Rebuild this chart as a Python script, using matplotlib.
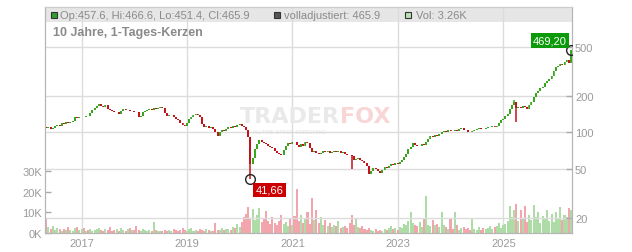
import matplotlib
matplotlib.use('Agg')
import matplotlib.pyplot as plt
from matplotlib.patches import Rectangle
import numpy as np
import pandas as pd

plt.rcParams['font.family'] = ['Liberation Sans', 'DejaVu Sans']

W, H = 632, 253

# semi-monthly candles (1st / 15th)
dates = pd.date_range('2016-04-15', '2026-04-15', freq='SMS')
closes = [
    110, 108, 111, 106, 109, 113, 115, 114, 119, 117, 121, 119, 122, 124, 133, 131, 133, 135, 134, 137, 136, 144, 152, 158,
    164, 171, 165, 163, 168, 155, 153, 150, 146, 148, 142, 150, 157, 152, 153, 149, 151, 148, 146, 133, 137, 146, 150, 152,
    155, 153, 158, 156, 160, 162, 158, 145, 137, 139, 140, 134, 130, 126, 120, 116, 114, 120, 129, 133, 140, 142, 138, 133,
    118, 110, 112, 108, 110, 106, 100, 94, 100, 104, 103, 106, 110, 108, 112, 111, 115, 117, 113, 110, 105, 92, 55, 62,
    73, 80, 86, 83, 82, 80, 78, 76, 75, 71, 68, 67, 65, 72, 78, 82, 80, 84, 83, 79, 76, 80, 78, 83,
    82, 75, 69, 70, 68, 67, 68, 70, 69, 70, 68, 69, 71, 69, 70, 68, 69, 67, 66, 65, 64, 60, 61, 62,
    60, 59, 56, 53, 46, 48, 51, 50, 48, 47, 49, 52, 51, 53, 55, 54, 56, 55, 57, 60, 63, 67, 73, 76,
    82, 79, 77, 78, 80, 79, 83, 88, 94, 92, 95, 94, 97, 100, 103, 100, 104, 103, 102, 105, 103, 106, 108, 105,
    104, 101, 100, 103, 104, 106, 108, 107, 106, 109, 110, 110, 112, 111, 114, 120, 126, 130, 136, 142, 155, 168, 178, 158,
    162, 160, 165, 163, 157, 168, 178, 195, 212, 220, 232, 236, 255, 262, 275, 292, 318, 340, 352, 365, 358, 380, 388, 370, 469.2,
]
volumes_k = [
    5.5, 7.5, 3.0, 2.0, 3.5, 1.5, 2.5, 1.8, 1.2, 2.0, 1.5, 2.8, 1.6, 1.0, 2.2, 3.0, 1.4, 1.8, 2.4, 1.2, 1.6, 2.0, 1.1, 1.5,
    1.8, 2.6, 1.3, 1.0, 2.0, 1.5, 2.7, 1.2, 1.6, 1.9, 1.1, 2.3, 1.5, 1.0, 1.8, 2.5, 1.3, 1.7, 3.2, 1.4, 1.2, 2.0, 1.5, 1.1,
    1.6, 1.2, 5.4, 1.4, 0.9, 1.2, 1.0, 1.5, 0.8, 1.3, 1.1, 2.0, 1.4, 1.0, 1.6, 2.2, 1.3, 1.1, 1.8, 2.4, 1.2, 1.5, 1.0, 1.9,
    1.3, 1.1, 2.0, 1.5, 1.2, 1.0, 4.8, 1.4, 1.7, 2.5, 1.6, 2.0, 1.8, 1.3, 3.0, 2.4, 4.2, 2.8, 5.5, 8.0, 9.5, 12.5, 7.0, 11.5,
    6.5, 9.0, 12.0, 5.5, 7.5, 10.5, 6.0, 4.5, 8.0, 5.0, 3.8, 6.0, 9.0, 4.2, 5.5, 3.5, 7.0, 4.0, 8.5, 21.5, 6.0, 9.0, 5.0, 7.5,
    10.0, 4.5, 17.0, 6.5, 11.0, 5.0, 8.0, 4.0, 6.5, 3.2, 5.0, 2.8, 4.0, 3.5, 6.0, 2.6, 3.0, 3.5, 2.4, 5.0, 8.8, 4.0, 7.0, 3.0,
    2.5, 3.5, 2.0, 1.6, 2.4, 1.4, 1.2, 1.8, 1.0, 1.5, 1.2, 2.0, 1.4, 2.6, 3.5, 1.8, 2.2, 1.6, 3.0, 2.4, 4.5, 3.8, 6.0, 10.0,
    5.0, 4.0, 3.5, 5.5, 3.0, 7.0, 18.0, 4.0, 3.2, 6.5, 4.0, 4.5, 3.0, 10.0, 3.8, 2.8, 2.0, 7.0, 1.8, 10.0, 4.0, 1.6, 2.2, 3.0,
    1.8, 2.5, 1.5, 7.0, 2.0, 1.6, 3.0, 1.5, 2.2, 1.8, 2.5, 3.2, 2.0, 2.8, 3.5, 5.0, 2.6, 3.8, 4.5, 6.0, 13.0, 8.0, 11.0, 14.0,
    6.0, 11.0, 7.5, 13.0, 5.5, 9.0, 6.5, 13.5, 8.0, 10.0, 5.0, 8.5, 7.0, 11.0, 6.0, 9.5, 5.5, 10.0, 7.5, 12.5, 6.5, 9.0, 8.0, 12.0, 11.0,
]
# intraperiod extremes that stick out of the bodies
wick_low_dates = ['2020-03-15', '2022-02-15', '2025-04-01']
wick_lows = [41.66, 50.0, 121.0]
wick_high_dates = ['2025-03-15']
wick_highs = [185.0]

year_ticks = ['2017', '2019', '2021', '2023', '2025']
price_ticks = [20, 50, 100, 200, 500]
vol_ticks = [0, 10, 20, 30]
low_label, low_date, low_value = '41,66', '2020-03-15', 41.66
last_label, last_date, last_value = '469,20', '2026-04-15', 469.2
header_items = ['Op:457.6, Hi:466.6, Lo:451.4, Cl:465.9', 'volladjustiert: 465.9', 'Vol: 3.26K']
title = '10 Jahre, 1-Tages-Kerzen'

UP, DOWN = '#3aa51e', '#c4121b'
UP_VOL, DOWN_VOL = '#aedca6', '#f2a5ad'
GRID = '#dcdcdc'
TXT = '#9a9a9a'

closes = np.array(closes, dtype=float)
opens = np.r_[closes[0], closes[:-1]]
up = closes >= opens
body_lo = np.minimum(opens, closes)
body_hi = np.maximum(opens, closes)
wlo = body_lo.copy()
whi = body_hi.copy()
for d, v in zip(wick_low_dates, wick_lows):
    wlo[dates.get_loc(pd.Timestamp(d))] = v
for d, v in zip(wick_high_dates, wick_highs):
    whi[dates.get_loc(pd.Timestamp(d))] = v
colors = np.where(up, UP, DOWN)
vol_colors = np.where(up, UP_VOL, DOWN_VOL)


def fx(x):
    return x / W


def fy(y):
    return 1 - y / H


fig = plt.figure(figsize=(W / 100, H / 100), dpi=100)
ax_vol = fig.add_axes([fx(45), fy(234), (572.3 - 45) / W, 226 / H])
ax_price = ax_vol.twinx()

# volume (bottom layer)
ax_vol.bar(dates, volumes_k, width=14, color=vol_colors, linewidth=0, zorder=1)
ax_vol.set_ylim(0, 110.2)
ax_vol.set_yticks(vol_ticks)
ax_vol.set_yticklabels([f'{v}K' for v in vol_ticks])
ax_vol.set_xlim(pd.Timestamp('2016-04-22'), pd.Timestamp('2026-04-24'))
ax_vol.set_xticks([pd.Timestamp(f'{y}-01-01') for y in year_ticks])
ax_vol.set_xticklabels(year_ticks)
ax_vol.set_axisbelow(True)
ax_vol.grid(True, axis='x', color=GRID, lw=1)
ax_vol.tick_params(axis='x', length=0, pad=3.5, labelsize=8, labelcolor=TXT)
ax_vol.tick_params(axis='y', direction='in', length=4, width=1, color='#aaaaaa',
                   pad=2, labelsize=8, labelcolor=TXT)

# header band
ax_vol.add_patch(Rectangle((0, 1 - 14.7 / 226), 1, 14.7 / 226, transform=ax_vol.transAxes,
                           facecolor='#e6e6e6', edgecolor='none', zorder=0.3))

# watermark
ax_vol.text(fx(340), fy(123), 'TRADER', transform=fig.transFigure, ha='right', va='baseline',
            fontsize=16, fontweight='bold', color='#e9e9e9', family='DejaVu Sans', zorder=0.6)
ax_vol.text(fx(340), fy(123), 'FOX', transform=fig.transFigure, ha='left', va='baseline',
            fontsize=16, fontweight='bold', color='#f8d6d6', family='DejaVu Sans', zorder=0.6)
ax_vol.text(fx(290), fy(129.5), 'ALLTIME STOCK SCREENING', transform=fig.transFigure, ha='center',
            va='top', fontsize=3.8, color='#e2e2e2', zorder=0.6)

# price candles
ax_price.set_yscale('log')
ax_price.vlines(dates, wlo, whi, colors=colors, lw=1.1, zorder=2)
ax_price.bar(dates, body_hi - body_lo, bottom=body_lo, width=13, color=colors, linewidth=0, zorder=2)
ax_price.set_ylim(15.07, 1062)
ax_price.set_yticks(price_ticks)
ax_price.set_yticklabels([str(v) for v in price_ticks])
ax_price.minorticks_off()
ax_price.grid(True, axis='y', color=GRID, lw=1)
ax_price.set_axisbelow(True)
ax_price.tick_params(axis='y', direction='in', length=4, width=1, color='#aaaaaa',
                     pad=2, labelsize=8, labelcolor=TXT)

for a in (ax_vol, ax_price):
    for side in ('left', 'right', 'bottom'):
        a.spines[side].set_color('#b5b5b5')
    a.spines['top'].set_color('#cccccc')

# marked extremes
ax_price.plot(pd.Timestamp(low_date), low_value, 'o', mfc='none', mec='#222222', ms=7, mew=1, zorder=5)
ax_price.annotate(low_label, (pd.Timestamp(low_date), low_value), xytext=(19, -11),
                  textcoords='offset pixels', ha='center', va='center', fontsize=8, color='white',
                  bbox=dict(boxstyle='square,pad=0.2', fc='#cc0000', ec='none'), zorder=6)
ax_price.plot(pd.Timestamp(last_date), last_value, 'o', mfc='none', mec='#222222', ms=7, mew=1, zorder=5)
ax_price.annotate(last_label, (pd.Timestamp(last_date), last_value), xytext=(-21, 10),
                  textcoords='offset pixels', ha='center', va='center', fontsize=8, color='white',
                  bbox=dict(boxstyle='square,pad=0.2', fc='#0a9a0a', ec='none'), zorder=6)

# header legend
squares = [(51, '#2e9e2e'), (273.5, '#555555'), (404.5, '#b8e2b2')]
text_x = [60, 284.5, 416]
for (sx, c), tx, label in zip(squares, text_x, header_items):
    fig.add_artist(Rectangle((fx(sx), fy(18.5)), 6 / W, 6 / H, transform=fig.transFigure,
                             facecolor=c, edgecolor='#333333', lw=0.8))
    fig.text(fx(tx), fy(16), label, ha='left', va='center', fontsize=8, color='#8a8a8a')

fig.text(fx(53), fy(33), title, ha='left', va='center', fontsize=9, fontweight='bold', color='#8a8a8a')

fig.savefig('out.png', dpi=100)
